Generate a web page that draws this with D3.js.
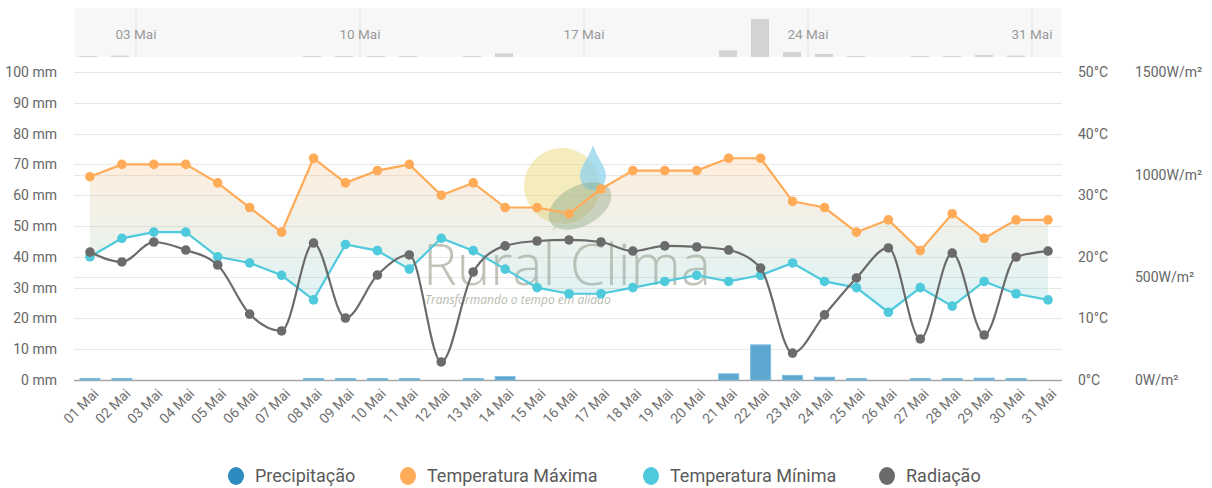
<!DOCTYPE html>
<html lang="pt">
<head>
<meta charset="UTF-8">
<title>Rural Clima - Maio</title>
<style>
  body { margin: 0; background: #fff; }
  svg { display: block; font-family: Roboto, "Noto Sans", sans-serif; }
</style>
</head>
<body>
<div id="chart"></div>
<script src="https://cdn.jsdelivr.net/npm/d3@7/dist/d3.min.js"></script>
<script>
// dados
var dias = ['01 Mai','02 Mai','03 Mai','04 Mai','05 Mai','06 Mai','07 Mai','08 Mai','09 Mai','10 Mai',
  '11 Mai','12 Mai','13 Mai','14 Mai','15 Mai','16 Mai','17 Mai','18 Mai','19 Mai','20 Mai',
  '21 Mai','22 Mai','23 Mai','24 Mai','25 Mai','26 Mai','27 Mai','28 Mai','29 Mai','30 Mai','31 Mai'];
var precipitacao = [0.3,0.4,0,0,0,0,0,0.2,0.2,0.3,0.2,0,0.3,1.1,0,0,0,0,0,0,2.0,11.4,1.5,0.9,0.3,0,0.2,0.2,0.6,0.4,0];
var tempMax = [33,35,35,35,32,28,24,36,32,34,35,30,32,28,28,27,31,34,34,34,36,36,29,28,24,26,21,27,23,26,26];
var tempMin = [20,23,24,24,20,19,17,13,22,21,18,23,21,18,15,14,14,15,16,17,16,17,19,16,15,11,15,12,16,14,13];
var radiacao = [623,575,672,633,560,321,239,667,302,511,609,88,526,653,677,682,672,628,653,648,633,545,131,317,497,643,200,618,219,599,628];

var mmTicks = [0,10,20,30,40,50,60,70,80,90,100];
var tempTicks = [0,10,20,30,40,50];
var radTicks = [0,500,1000,1500];
var navTicks = [3,10,17,24,31];

var legenda = [
  { nome: 'Precipitação', cor: '#2e8bc0' },
  { nome: 'Temperatura Máxima', cor: '#ffab57' },
  { nome: 'Temperatura Mínima', cor: '#4fc9dc' },
  { nome: 'Radiação', cor: '#6b6b6b' }
];

var width = 1212, height = 488;
var plotLeft = 74, plotRight = 1064, plotTop = 72, plotBottom = 380;

var svg = d3.select('#chart').append('svg')
  .attr('width', width).attr('height', height);

var x = d3.scaleBand().domain(dias).range([plotLeft, plotRight]);
var cx = function (i) { return x(dias[i]) + x.bandwidth() / 2; };
var yMm = d3.scaleLinear().domain([0, 100]).range([plotBottom, plotTop]);
var yTemp = d3.scaleLinear().domain([0, 50]).range([plotBottom, plotTop]);
var yRad = d3.scaleLinear().domain([0, 1500]).range([plotBottom, plotTop]);

// navegador
var navTop = 8, navBottom = 57;
var xNav = d3.scaleLinear().domain([1, 32]).range([72, 1064]);
var yNav = d3.scaleLinear().domain([0, 14.7]).range([navBottom, navTop]);

svg.append('rect')
  .attr('x', 74).attr('y', navTop).attr('width', 988).attr('height', navBottom - navTop)
  .attr('fill', '#f7f7f7');

svg.append('g').selectAll('line').data(navTicks).enter().append('line')
  .attr('x1', d => xNav(d)).attr('x2', d => xNav(d))
  .attr('y1', navTop).attr('y2', navBottom)
  .attr('stroke', '#e2e2e2');

svg.append('g').selectAll('rect').data(precipitacao).enter().append('rect')
  .attr('x', (d, i) => xNav(i + 1.5) - 9)
  .attr('width', 18)
  .attr('y', d => d > 0 ? Math.min(yNav(d), navBottom - 1) : navBottom)
  .attr('height', d => d > 0 ? Math.max(navBottom - yNav(d), 1) : 0)
  .attr('fill', '#d3d3d3');

svg.append('g').selectAll('text').data(navTicks).enter().append('text')
  .attr('x', d => xNav(d)).attr('y', 39)
  .attr('text-anchor', 'middle')
  .attr('font-size', 13.5).attr('fill', '#9a9a9a')
  .text(d => dias[d - 1]);

// grades
var grid = svg.append('g');
grid.selectAll('.gmm').data(mmTicks.slice(1)).enter().append('line')
  .attr('x1', plotLeft).attr('x2', plotRight - 2)
  .attr('y1', d => Math.round(yMm(d)) + 0.5).attr('y2', d => Math.round(yMm(d)) + 0.5)
  .attr('stroke', '#e8e8e8');
grid.selectAll('.grad').data([500, 1000]).enter().append('line')
  .attr('x1', plotLeft).attr('x2', plotRight - 2)
  .attr('y1', d => Math.round(yRad(d)) + 0.5).attr('y2', d => Math.round(yRad(d)) + 0.5)
  .attr('stroke', '#e8e8e8');

// marca d'água
var wm = svg.append('g');
wm.append('circle').attr('cx', 562).attr('cy', 186).attr('r', 38)
  .attr('fill', '#ead97a').attr('opacity', 0.5);
wm.append('path')
  .attr('d', 'M593,145 C597,158 606,166 606,176 C606,184 600,190 593,190 C586,190 580,184 580,176 C580,166 589,158 593,145 Z')
  .attr('fill', '#8fd3ec').attr('opacity', 0.75);
wm.append('ellipse').attr('cx', 580).attr('cy', 206).attr('rx', 34).attr('ry', 20)
  .attr('transform', 'rotate(-28,580,206)')
  .attr('fill', '#8aa98c').attr('opacity', 0.45);
wm.append('path').attr('d', 'M553,230 Q575,205 605,190')
  .attr('fill', 'none').attr('stroke', '#c9d6c2').attr('stroke-width', 2).attr('opacity', 0.6);
wm.append('text').attr('x', 423).attr('y', 285)
  .attr('font-family', '"Open Sans", sans-serif').attr('font-weight', 300)
  .attr('font-size', 57).attr('fill', '#a8ab9c').attr('opacity', 0.7)
  .attr('textLength', 288)
  .text('Rural Clima');
wm.append('text').attr('x', 425).attr('y', 304)
  .attr('font-family', '"Open Sans", sans-serif').attr('font-style', 'italic')
  .attr('font-size', 12).attr('fill', '#a8ab9c').attr('opacity', 0.8)
  .text('Transformando o tempo em aliado');

// faixa entre máxima e mínima
var defs = svg.append('defs');
var grad = defs.append('linearGradient').attr('id', 'faixa')
  .attr('x1', 0).attr('y1', 0).attr('x2', 0).attr('y2', 1);
grad.append('stop').attr('offset', '0%').attr('stop-color', '#ffab57').attr('stop-opacity', 0.2);
grad.append('stop').attr('offset', '100%').attr('stop-color', '#4fc9dc').attr('stop-opacity', 0.2);

var area = d3.area()
  .x((d, i) => cx(i))
  .y0((d, i) => yTemp(tempMin[i]))
  .y1(d => yTemp(d));
svg.append('path').datum(tempMax)
  .attr('d', area).attr('fill', 'url(#faixa)');

// eixo x
svg.append('line')
  .attr('x1', plotLeft).attr('x2', plotRight - 2)
  .attr('y1', plotBottom + 0.5).attr('y2', plotBottom + 0.5)
  .attr('stroke', '#a6a6a6').attr('stroke-width', 1.5);

// barras de precipitação
svg.append('g').selectAll('rect').data(precipitacao).enter().append('rect')
  .attr('x', (d, i) => cx(i) - 10)
  .attr('width', 20)
  .attr('y', d => d > 0 ? Math.min(yMm(d), plotBottom - 1.5) : plotBottom)
  .attr('height', d => d > 0 ? Math.max(plotBottom - yMm(d), 1.5) : 0)
  .attr('fill', '#4a9ccb').attr('fill-opacity', 0.9)
  .attr('stroke', d => d > 0 ? '#7fbde0' : 'none').attr('stroke-width', 1);

// linhas
function serie(dados, escala, cor, curva) {
  var line = d3.line().x((d, i) => cx(i)).y(d => escala(d)).curve(curva);
  svg.append('path').datum(dados)
    .attr('d', line).attr('fill', 'none')
    .attr('stroke', cor).attr('stroke-width', 2.2);
  svg.append('g').selectAll('circle').data(dados).enter().append('circle')
    .attr('cx', (d, i) => cx(i)).attr('cy', d => escala(d))
    .attr('r', 4.8).attr('fill', cor);
}
serie(tempMax, yTemp, '#ffab57', d3.curveLinear);
serie(tempMin, yTemp, '#4fc9dc', d3.curveLinear);
serie(radiacao, yRad, '#6b6b6b', d3.curveMonotoneX);

// rótulos dos eixos
var labelColor = '#666';
svg.append('g').selectAll('text').data(mmTicks).enter().append('text')
  .attr('x', 57).attr('y', d => yMm(d)).attr('dy', '0.35em')
  .attr('text-anchor', 'end').attr('font-size', 14).attr('fill', labelColor)
  .text(d => d + ' mm');
svg.append('g').selectAll('text').data(tempTicks).enter().append('text')
  .attr('x', 1078).attr('y', d => yTemp(d)).attr('dy', '0.35em')
  .attr('font-size', 14).attr('fill', labelColor)
  .text(d => d + '°C');
svg.append('g').selectAll('text').data(radTicks).enter().append('text')
  .attr('x', 1135).attr('y', d => yRad(d)).attr('dy', '0.35em')
  .attr('font-size', 14).attr('fill', labelColor)
  .text(d => d + 'W/m²');

svg.append('g').selectAll('text').data(dias).enter().append('text')
  .attr('transform', (d, i) => 'translate(' + (cx(i) + 6) + ',' + 391 + ') rotate(-45)')
  .attr('dy', '0.35em')
  .attr('text-anchor', 'end').attr('font-size', 14).attr('fill', '#707070')
  .text(d => d);

// legenda
var legX = [236, 408, 651, 887];
var leg = svg.append('g').selectAll('g').data(legenda).enter().append('g')
  .attr('transform', (d, i) => 'translate(' + legX[i] + ',476)');
leg.append('ellipse').attr('rx', 8).attr('ry', 9).attr('fill', d => d.cor);
leg.append('text').attr('x', 19).attr('dy', '0.35em')
  .attr('font-size', 18).attr('fill', '#5a5a5a')
  .text(d => d.nome);
</script>
</body>
</html>
